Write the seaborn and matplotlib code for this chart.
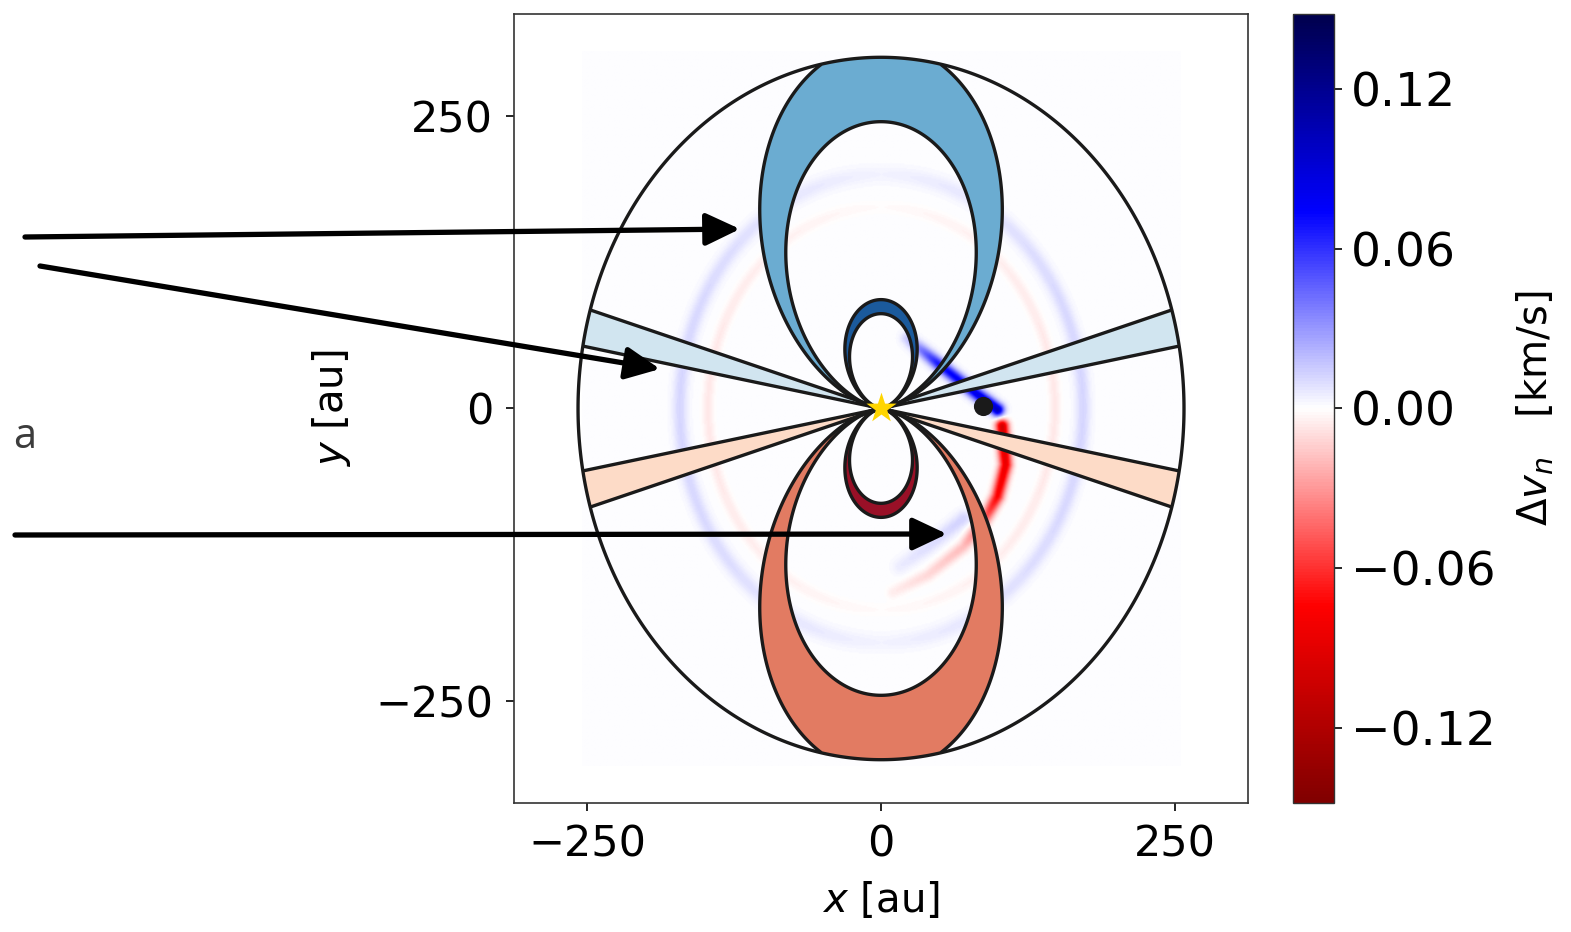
import numpy as np
import matplotlib
matplotlib.use("Agg")
import matplotlib.pyplot as plt
import seaborn as sns

sns.set_theme(style="ticks", rc={"text.color": "black", "axes.labelcolor": "black",
                                 "xtick.color": "black", "ytick.color": "black",
                                 "axes.edgecolor": "0.2"})
plt.rcParams['font.family'] = ['DejaVu Sans']
plt.rcParams['mathtext.fontset'] = 'dejavusans'

# ---- disk model -----------------------------------------------------------
r_out = 300.0          # outer disk radius [au]
cos_inc = 0.86         # projected minor/major axis ratio
star_x, star_y = [0.0], [0.0]
planet_x, planet_y = [87.0], [2.0]

# Keplerian channels: tip radius (on the major axis) of the bounding isovelocity loops [au]
petal_outer_tip = [312.0, 93.0]
petal_inner_tip = [245.0, 81.0]
# colour fractions in RdBu_r for the low / mid / high velocity channels
chan_frac_pos = [0.40, 0.25, 0.08]   # approaching side (blue)
chan_frac_neg = [0.60, 0.76, 0.93]   # receding side (red)
# low-velocity wedges: |y/x| range
wedge_slope = [0.21, 0.34]

# ---- velocity residual map ------------------------------------------------
resid_extent = [-255.0, 255.0, -305.0, 305.0]
resid_offset = 0.0007
ring_radius = [200.0, 172.0]     # deprojected [au]
ring_width = [5.0, 4.0]
ring_amp = [0.011, -0.007]

wake_blue_x = [22.0, 50.0, 78.0, 99.0]
wake_blue_y = [60.0, 37.0, 15.0, -1.0]
wake_blue_amp = [0.015, 0.07, 0.08, 0.10]

wake_red_x = [103.0, 106.0, 99.0, 88.0, 70.0, 40.0, 10.0]
wake_red_y = [-15.0, -48.0, -75.0, -95.0, -118.0, -142.0, -157.0]
wake_red_amp = [-0.10, -0.085, -0.075, -0.045, -0.02, -0.012, -0.006]

wake_faint_x = [70.0, 40.0, 16.0]
wake_faint_y = [-94.0, -118.0, -135.0]
wake_faint_amp = [0.012, 0.009, 0.005]

vlim = 0.148
cbar_ticks = [-0.12, -0.06, 0.0, 0.06, 0.12]
axis_ticks = [-250, 0, 250]


def ridge(X, Y, px, py, amp, width):
    """Gaussian ridge following a polyline, amplitude varying along it."""
    best_d = np.full(X.shape, np.inf)
    best_a = np.zeros(X.shape)
    for i in range(len(px) - 1):
        x0, y0, x1, y1 = px[i], py[i], px[i + 1], py[i + 1]
        dx, dy = x1 - x0, y1 - y0
        t = np.clip(((X - x0) * dx + (Y - y0) * dy) / (dx * dx + dy * dy), 0, 1)
        d = np.hypot(X - (x0 + t * dx), Y - (y0 + t * dy))
        a = amp[i] + t * (amp[i + 1] - amp[i])
        sel = d < best_d
        best_d[sel] = d[sel]
        best_a[sel] = a[sel]
    return best_a * np.exp(-0.5 * (best_d / width) ** 2)


# residual image grid
xi = np.linspace(resid_extent[0], resid_extent[1], 511)
yi = np.linspace(resid_extent[2], resid_extent[3], 611)
XI, YI = np.meshgrid(xi, yi)
RI = np.hypot(XI / cos_inc, YI)
side = np.abs(XI / cos_inc) / np.maximum(RI, 1e-6)   # strongest along the minor axis
resid = np.full(XI.shape, resid_offset)
for r0, w, a in zip(ring_radius, ring_width, ring_amp):
    resid += a * (0.25 + 0.75 * side) * np.exp(-0.5 * ((RI - r0) / w) ** 2)
resid += ridge(XI, YI, wake_blue_x, wake_blue_y, wake_blue_amp, 3.8)
resid += ridge(XI, YI, wake_red_x, wake_red_y, wake_red_amp, 3.8)
resid += ridge(XI, YI, wake_faint_x, wake_faint_y, wake_faint_amp, 4.5)

# channel-map grid
xc = np.linspace(-305, 305, 1220)
yc = np.linspace(-305, 305, 1220)
XC, YC = np.meshgrid(xc, yc)
RC = np.hypot(XC / cos_inc, YC)
outside = RC > r_out
kepler = np.ma.masked_where(outside, YC / RC ** 1.5)
slope = np.ma.masked_where(outside, YC / np.abs(XC))

cmap_ch = sns.color_palette("RdBu_r", as_cmap=True)
lw_c = 2.4

fig = plt.figure(figsize=(15.71, 9.32), dpi=100)
ax = fig.add_axes([0.3272, 0.1384, 0.4672, 0.8466])
cax = fig.add_axes([0.8231, 0.1384, 0.0261, 0.8466])

im = ax.imshow(resid, origin="lower", extent=resid_extent, cmap="seismic_r",
               vmin=-vlim, vmax=vlim, interpolation="bilinear", zorder=0)

# low-velocity wedges
ax.contourf(XC, YC, slope, levels=[wedge_slope[0], wedge_slope[1]],
            colors=[cmap_ch(chan_frac_pos[0])], zorder=2)
ax.contourf(XC, YC, slope, levels=[-wedge_slope[1], -wedge_slope[0]],
            colors=[cmap_ch(chan_frac_neg[0])], zorder=2)
ax.contour(XC, YC, slope, levels=[-wedge_slope[1], -wedge_slope[0],
                                  wedge_slope[0], wedge_slope[1]],
           colors="k", linewidths=lw_c, linestyles="solid", zorder=3)

# Keplerian petals
line_levels = []
for k, (ro, ri) in enumerate(zip(petal_outer_tip, petal_inner_tip)):
    lo, hi = ro ** -0.5, ri ** -0.5
    ax.contourf(XC, YC, kepler, levels=[lo, hi],
                colors=[cmap_ch(chan_frac_pos[k + 1])], zorder=2)
    ax.contourf(XC, YC, kepler, levels=[-hi, -lo],
                colors=[cmap_ch(chan_frac_neg[k + 1])], zorder=2)
    line_levels += [lo, hi, -lo, -hi]
ax.contour(XC, YC, kepler, levels=sorted(line_levels), colors="k",
           linewidths=lw_c, linestyles="solid", zorder=3)

# disk outer edge
ax.contour(XC, YC, RC, levels=[r_out], colors="k", linewidths=lw_c, zorder=3)

ax.scatter(planet_x, planet_y, s=190, color="k", zorder=5, linewidths=0)
ax.scatter(star_x, star_y, s=520, marker="*", color="#ffd500", zorder=6,
           linewidths=0)

ax.set_xlim(-312.5, 312.5)
ax.set_ylim(-337, 337)
ax.set_aspect("auto")
ax.set_xticks(axis_ticks)
ax.set_yticks(axis_ticks)
ax.tick_params(labelsize=31, length=6, width=1.2, pad=9, direction="out")
ax.set_xlabel(r"$x$ [au]", fontsize=29, labelpad=10)
ax.set_ylabel(r"$y$ [au]", fontsize=29, labelpad=16)
for sp in ax.spines.values():
    sp.set_linewidth(1.2)

cb = fig.colorbar(im, cax=cax)
cb.set_ticks(cbar_ticks)
cb.ax.set_yticklabels([f"{t:.2f}".replace("-", "\u2212") for t in cbar_ticks])
cb.ax.tick_params(labelsize=34, length=6, width=1.2, pad=6)
cb.outline.set_linewidth(1.0)
cb.set_label(r"$\Delta v_n$   [km/s]", fontsize=29, labelpad=14)

# pointer arrows (figure pixel positions, origin top-left)
W, H = 1571.0, 932.0
arrow_tail = [(25, 237), (40, 266), (15, 535)]
arrow_tip = [(740, 229), (660, 369), (947, 534)]
for (tx, ty), (hx, hy) in zip(arrow_tail, arrow_tip):
    ax.annotate("", xy=(hx / W, 1 - hy / H), xycoords="figure fraction",
                xytext=(tx / W, 1 - ty / H), textcoords="figure fraction",
                arrowprops=dict(arrowstyle="-|>,head_length=0.55,head_width=0.26",
                                color="black", lw=3.8, shrinkA=0, shrinkB=0,
                                mutation_scale=38),
                annotation_clip=False, zorder=10)

fig.text(25 / W, 1 - 437 / H, "a", fontsize=30, family=["Open Sans", "DejaVu Sans"],
         color="#3c3c3c", ha="center", va="center")

fig.savefig("out.png", dpi=100, facecolor="white")
